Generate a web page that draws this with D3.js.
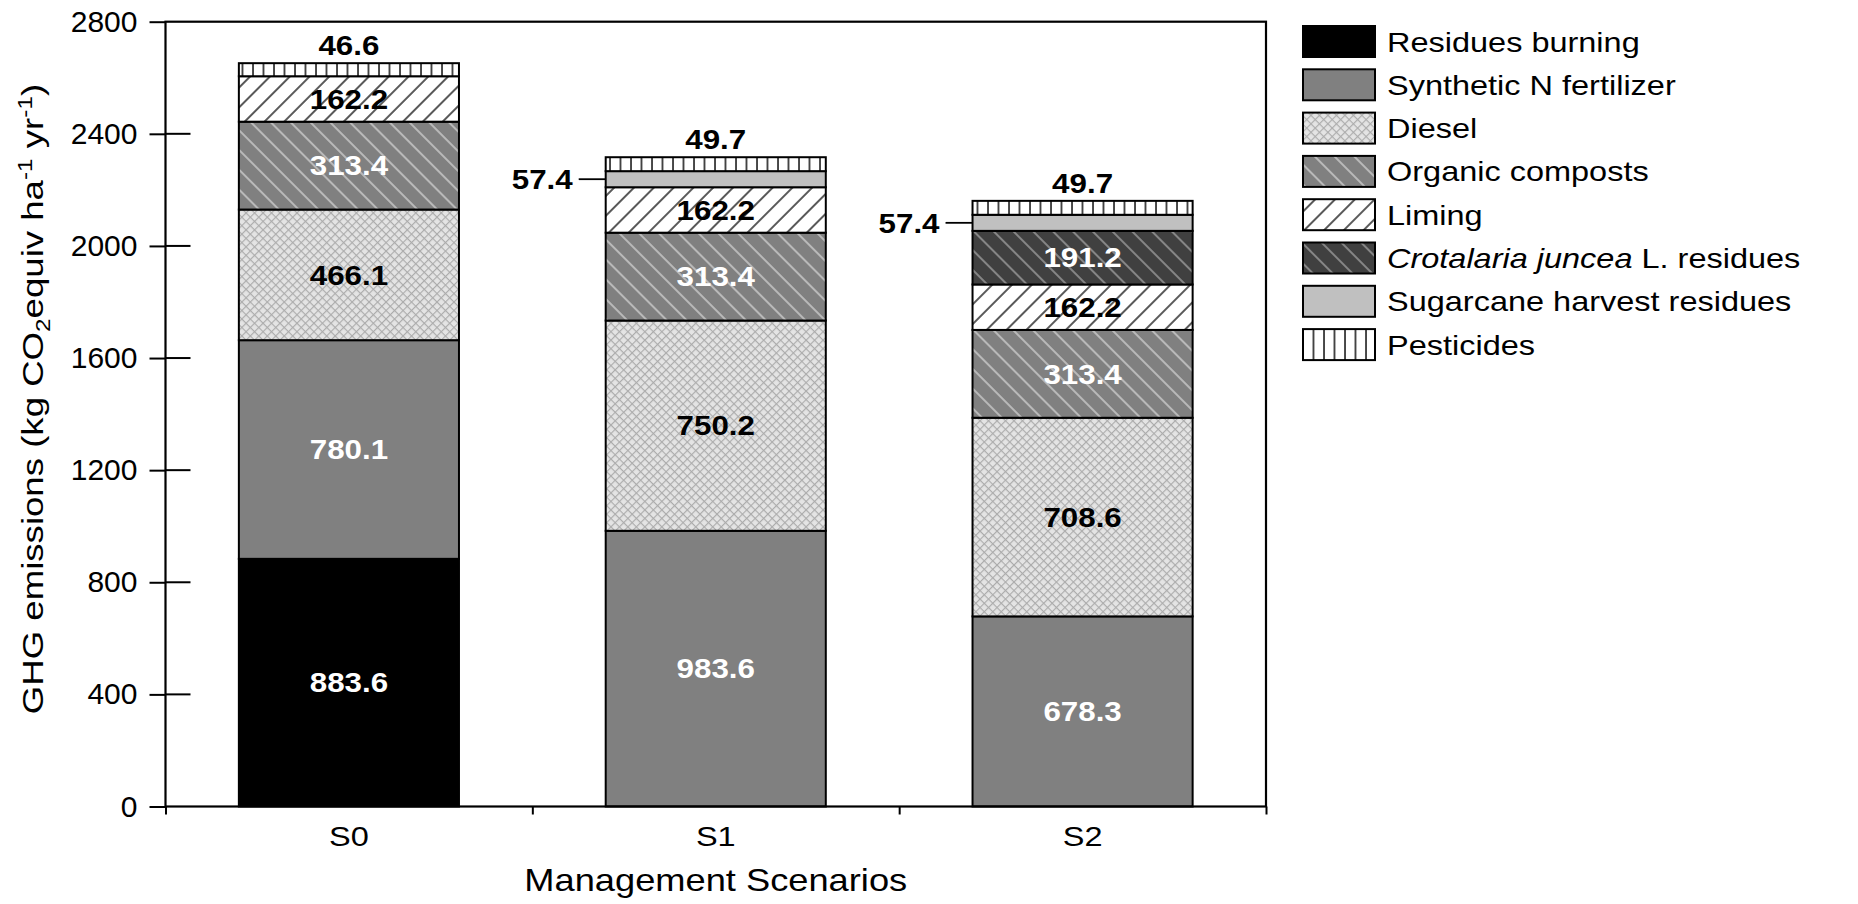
<!DOCTYPE html>
<html>
<head>
<meta charset="utf-8">
<script src="https://cdn.jsdelivr.net/npm/d3@7/dist/d3.min.js"></script>
<style>
  html, body { margin: 0; padding: 0; background: #fff; }
  svg { display: block; font-family: "Liberation Sans", Arial, sans-serif; }
</style>
</head>
<body>
<svg id="chart" width="1858" height="904"></svg>
<script>
// Scenarios and per-source GHG emissions (kg CO2 equiv ha-1 yr-1)
const categories = ["S0", "S1", "S2"];
const sourceNames = [
  "Residues burning",
  "Synthetic N fertilizer",
  "Diesel",
  "Organic composts",
  "Liming",
  "Crotalaria juncea L. residues",
  "Sugarcane harvest residues",
  "Pesticides"
];
const residuesBurning   = [883.6, 0, 0];
const syntheticN        = [780.1, 983.6, 678.3];
const diesel            = [466.1, 750.2, 708.6];
const organicComposts   = [313.4, 313.4, 313.4];
const liming            = [162.2, 162.2, 162.2];
const crotalaria        = [0, 0, 191.2];
const sugarcaneResidues = [0, 57.4, 57.4];
const pesticides        = [46.6, 49.7, 49.7];
const yTicks = [0, 400, 800, 1200, 1600, 2000, 2400, 2800];

const seriesValues = [residuesBurning, syntheticN, diesel, organicComposts,
                      liming, crotalaria, sugarcaneResidues, pesticides];

// fill, label colour and label placement per source
const styles = [
  { fill: "#000000",          text: "#fff", place: "in" },
  { fill: "#808080",          text: "#fff", place: "in" },
  { fill: "url(#pDiesel)",    text: "#000", place: "in" },
  { fill: "url(#pOrganic)",   text: "#fff", place: "in" },
  { fill: "url(#pLiming)",    text: "#000", place: "in" },
  { fill: "url(#pCrot)",      text: "#fff", place: "in" },
  { fill: "#c0c0c0",          text: "#000", place: "left" },
  { fill: "url(#pPest)",      text: "#000", place: "top" }
];

const rows = categories.map((c, i) => {
  const r = { cat: c };
  sourceNames.forEach((s, k) => { r[s] = seriesValues[k][i]; });
  return r;
});
const stacked = d3.stack().keys(sourceNames)(rows);

const svg = d3.select("#chart");
const SX = 1.16; // horizontal text widening

const plot = { left: 165.5, right: 1266, top: 21.7, bottom: 806.5 };

const x = d3.scaleBand().domain(categories)
  .range([plot.left, plot.right]).paddingInner(0.4).paddingOuter(0.2);
const y = d3.scaleLinear().domain([0, 2800]).range([plot.bottom, plot.top]);

// ---------- patterns ----------
const defs = svg.append("defs");
function linePattern(id, bg, stroke, sw, spacing, angle) {
  const p = defs.append("pattern").attr("id", id)
    .attr("patternUnits", "userSpaceOnUse")
    .attr("width", spacing).attr("height", spacing)
    .attr("patternTransform", `rotate(${angle})`);
  p.append("rect").attr("width", spacing).attr("height", spacing).attr("fill", bg);
  p.append("line").attr("x1", spacing / 2).attr("x2", spacing / 2)
    .attr("y1", 0).attr("y2", spacing)
    .attr("stroke", stroke).attr("stroke-width", sw);
  return p;
}
linePattern("pLiming", "#ffffff", "#000000", 1.3, 14, 45);
linePattern("pOrganic", "#808080", "#d8d8d8", 1.3, 14, -45);
linePattern("pCrot", "#404040", "#ababab", 1.3, 14, -45);
// pesticides: vertical rules
(function () {
  const p = defs.append("pattern").attr("id", "pPest")
    .attr("patternUnits", "userSpaceOnUse").attr("width", 10.5).attr("height", 10);
  p.append("rect").attr("width", 10.5).attr("height", 10).attr("fill", "#fff");
  p.append("line").attr("x1", 1).attr("x2", 1).attr("y1", 0).attr("y2", 10)
    .attr("stroke", "#000").attr("stroke-width", 1.4);
})();
// diesel: fine diagonal mesh
(function () {
  const s = 6;
  const p = defs.append("pattern").attr("id", "pDiesel")
    .attr("patternUnits", "userSpaceOnUse").attr("width", s).attr("height", s)
    .attr("patternTransform", "rotate(45)");
  p.append("rect").attr("width", s).attr("height", s).attr("fill", "#e4e4e4");
  p.append("line").attr("x1", 0).attr("x2", s).attr("y1", 0.5).attr("y2", 0.5)
    .attr("stroke", "#acacac").attr("stroke-width", 1.3);
  p.append("line").attr("x1", 0.5).attr("x2", 0.5).attr("y1", 0).attr("y2", s)
    .attr("stroke", "#acacac").attr("stroke-width", 1.3);
})();

// ---------- bars ----------
const gBars = svg.append("g");
stacked.forEach((layer, k) => {
  gBars.selectAll(null).data(layer.filter(d => d[1] - d[0] > 0)).enter()
    .append("rect")
    .attr("x", d => x(d.data.cat))
    .attr("width", x.bandwidth())
    .attr("y", d => y(d[1]))
    .attr("height", d => y(d[0]) - y(d[1]))
    .attr("fill", styles[k].fill)
    .attr("stroke", "#000").attr("stroke-width", 2);
});

// ---------- value labels ----------
function stretchedText(g, tx, ty, txt, sx = SX) {
  return g.append("text")
    .attr("transform", `translate(${tx},${ty}) scale(${sx},1)`)
    .text(txt);
}
const gLab = svg.append("g")
  .attr("font-weight", "bold").attr("font-size", 27).attr("text-anchor", "middle");
stacked.forEach((layer, k) => {
  layer.forEach(d => {
    const v = d[1] - d[0];
    if (v <= 0) return;
    const cx = x(d.data.cat) + x.bandwidth() / 2;
    const cy = (y(d[0]) + y(d[1])) / 2;
    const label = d3.format(".1f")(v);
    if (styles[k].place === "in") {
      stretchedText(gLab, cx, cy + 9.7, label).attr("fill", styles[k].text);
    } else if (styles[k].place === "top") {
      stretchedText(gLab, cx, y(d[1]) - 8, label).attr("fill", "#000");
    } else {
      const bx = x(d.data.cat);
      gLab.append("line").attr("x1", bx - 27).attr("x2", bx)
        .attr("y1", cy).attr("y2", cy).attr("stroke", "#000").attr("stroke-width", 1.8);
      stretchedText(gLab, bx - 33, cy + 9.7, label)
        .attr("fill", "#000").attr("text-anchor", "end");
    }
  });
});

// ---------- axes and frame ----------
const gY = svg.append("g").attr("transform", `translate(${plot.left},0)`)
  .call(d3.axisLeft(y).tickValues(yTicks).tickSize(16).tickPadding(12).tickFormat(d3.format("d")));
gY.select(".domain").remove();
gY.selectAll(".tick line").attr("stroke", "#000").attr("stroke-width", 2);
gY.selectAll(".tick text").attr("font-size", 30)
  .attr("font-family", "Liberation Sans, Arial, sans-serif").attr("fill", "#000");
// inward part of the y ticks
svg.append("g").selectAll("line")
  .data(yTicks.filter(t => t > 0 && t < 2800)).enter().append("line")
  .attr("x1", plot.left).attr("x2", plot.left + 25)
  .attr("y1", d => y(d)).attr("y2", d => y(d))
  .attr("stroke", "#000").attr("stroke-width", 2);

// x ticks at the category boundaries
const bounds = d3.scaleLinear().domain([0, categories.length]).range([plot.left, plot.right]);
const gX = svg.append("g").attr("transform", `translate(0,${plot.bottom})`)
  .call(d3.axisBottom(bounds).tickValues(d3.range(categories.length + 1)).tickSize(8).tickFormat(""));
gX.select(".domain").remove();
gX.selectAll(".tick line").attr("stroke", "#000").attr("stroke-width", 2);

// category names
const gCat = svg.append("g").attr("font-size", 28).attr("text-anchor", "middle");
categories.forEach(c => {
  stretchedText(gCat, x(c) + x.bandwidth() / 2, 846, c);
});

// frame
svg.append("rect")
  .attr("x", plot.left).attr("y", plot.top)
  .attr("width", plot.right - plot.left).attr("height", plot.bottom - plot.top)
  .attr("fill", "none").attr("stroke", "#000").attr("stroke-width", 2.2);

// axis titles
stretchedText(svg, (plot.left + plot.right) / 2, 891, "Management Scenarios", 1.17)
  .attr("font-size", 31).attr("text-anchor", "middle");

const yTitle = svg.append("text")
  .attr("transform", `translate(43,399) rotate(-90) scale(1.22,1)`)
  .attr("font-size", 30).attr("text-anchor", "middle");
yTitle.append("tspan").text("GHG emissions (kg CO");
yTitle.append("tspan").attr("font-size", 20).attr("dy", 7).text("2");
yTitle.append("tspan").attr("dy", -7).text("equiv ha");
yTitle.append("tspan").attr("font-size", 20).attr("dy", -11).text("-1");
yTitle.append("tspan").attr("dy", 11).text(" yr");
yTitle.append("tspan").attr("font-size", 20).attr("dy", -11).text("-1");
yTitle.append("tspan").attr("dy", 11).text(")");

// ---------- legend ----------
const gLeg = svg.append("g").attr("font-size", 28);
sourceNames.forEach((name, k) => {
  const ty = 26 + k * 43.3;
  gLeg.append("rect").attr("x", 1303).attr("y", ty).attr("width", 72).attr("height", 31)
    .attr("fill", styles[k].fill).attr("stroke", "#000").attr("stroke-width", 2);
  const t = stretchedText(gLeg, 1387, ty + 15.5 + 10, "");
  if (name.startsWith("Crotalaria")) {
    t.append("tspan").attr("font-style", "italic").text("Crotalaria juncea");
    t.append("tspan").text(" L. residues");
  } else {
    t.text(name);
  }
});
</script>
</body>
</html>
